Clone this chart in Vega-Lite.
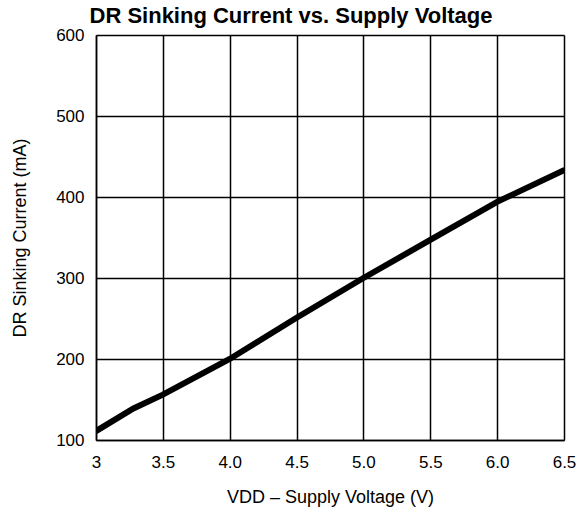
{
  "$schema": "https://vega.github.io/schema/vega-lite/v6.json",
  "autosize": "none",
  "width": 468,
  "height": 405,
  "padding": {"left": 96, "top": 35, "right": 19, "bottom": 80},
  "background": "white",
  "title": {
    "text": "DR Sinking Current vs. Supply Voltage",
    "font": "Liberation Sans",
    "fontSize": 22,
    "fontWeight": 900,
    "color": "black",
    "anchor": "middle",
    "frame": "group",
    "dx": -39,
    "offset": -2
  },
  "data": {
    "values": [
      {"v": 3.0, "i": 111},
      {"v": 3.28, "i": 139},
      {"v": 3.5, "i": 156},
      {"v": 4.0, "i": 200},
      {"v": 4.5, "i": 251},
      {"v": 5.0, "i": 300},
      {"v": 5.5, "i": 347},
      {"v": 6.0, "i": 394},
      {"v": 6.5, "i": 433}
    ]
  },
  "mark": {"type": "line", "color": "black", "strokeWidth": 6, "strokeCap": "round", "clip": true},
  "encoding": {
    "x": {
      "field": "v",
      "type": "quantitative",
      "scale": {"domain": [3, 6.5], "nice": false, "zero": false},
      "axis": {
        "values": [3, 3.5, 4, 4.5, 5, 5.5, 6, 6.5],
        "labelExpr": "datum.value == 3 ? '3' : format(datum.value, '.1f')",
        "title": "VDD – Supply Voltage (V)",
        "grid": true,
        "gridColor": "black",
        "gridWidth": 1.5,
        "gridOpacity": 1,
        "domainColor": "black",
        "domainWidth": 1.5,
        "ticks": false,
        "labelFont": "Liberation Sans",
        "labelFontSize": 17,
        "labelColor": "black",
        "labelPadding": 14,
        "labelFlush": false,
        "titleFont": "Liberation Sans",
        "titleFontSize": 18,
        "titleFontWeight": "normal",
        "titleColor": "black",
        "titlePadding": 18
      }
    },
    "y": {
      "field": "i",
      "type": "quantitative",
      "scale": {"domain": [100, 600], "nice": false, "zero": false},
      "axis": {
        "values": [100, 200, 300, 400, 500, 600],
        "title": "DR Sinking Current (mA)",
        "grid": true,
        "gridColor": "black",
        "gridWidth": 1.5,
        "gridOpacity": 1,
        "domainColor": "black",
        "domainWidth": 1.5,
        "ticks": false,
        "labelFont": "Liberation Sans",
        "labelFontSize": 17,
        "labelColor": "black",
        "labelPadding": 12,
        "titleFont": "Liberation Sans",
        "titleFontSize": 18,
        "titleFontWeight": "normal",
        "titleColor": "black",
        "titlePadding": 26
      }
    }
  }
}
